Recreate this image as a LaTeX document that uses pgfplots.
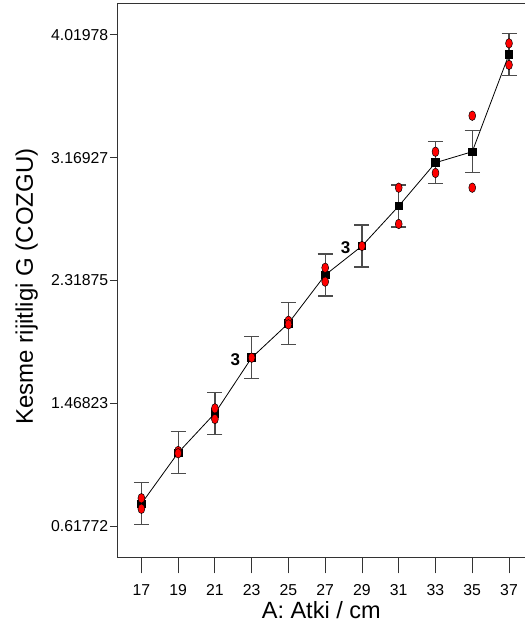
\documentclass[border=0pt]{standalone}
\usepackage{fontspec}
\setmainfont{Liberation Sans}
\usepackage{pgfplots}
\usepackage{pgfplotstable}
\pgfplotsset{compat=1.18}
\usetikzlibrary{calc}

% mean of each run group, with its LSD half-width
\pgfplotstableread{
x  mean   err
17 0.774  0.145
19 1.127  0.145
21 1.400  0.145
23 1.7845 0.145
25 2.0225 0.145
27 2.357  0.145
29 2.5575 0.145
31 2.834  0.145
33 3.134  0.145
35 3.210  0.145
37 3.884  0.145
}\means

% single runs (red dots)
\pgfplotstableread{
x  y
17 0.812
17 0.739
19 1.139
19 1.123
21 1.434
21 1.360
23 1.7845
25 2.040
25 2.015
27 2.407
27 2.311
29 2.5575
31 2.961
31 2.710
33 3.210
33 3.063
35 3.459
35 2.961
37 3.960
37 3.811
}\runs

\begin{document}
\begin{tikzpicture}
\begin{axis}[
    scale only axis,
    width=407.5bp, height=554.7bp,
    xmin=15.70, xmax=37.87,
    ymin=0.4004, ymax=4.2392,
    axis x line=box, axis y line=left,
    axis line style={-, black!80, line width=0.9bp},
    tick pos=left,
    tick align=outside,
    xtick={17,19,...,37},
    every major x tick/.append style={draw=none},
    minor xtick={17,19,...,37},
    minor tick length=15.6bp,
    ytick={0.61772,1.46823,2.31875,3.16927,4.01978},
    yticklabels={0.61772,1.46823,2.31875,3.16927,4.01978},
    major tick length=7.7bp,
    tick style={black!80, line width=0.9bp},
    tick label style={font=\fontsize{15.8bp}{18bp}\selectfont},
    /pgf/number format/assume math mode=true,
    xticklabel style={yshift=-16bp},
    yticklabel style={xshift=2bp},
    xlabel={A: Atki / cm},
    ylabel={Kesme rijitligi G (COZGU)},
    xlabel style={font=\fontsize{23.5bp}{27bp}\selectfont,
        at={(axis description cs:0.5,0)}, anchor=base, yshift=-60.3bp},
    ylabel style={font=\fontsize{24bp}{28bp}\selectfont,
        at={(axis description cs:-0.2074,0.4889)}, anchor=base, rotate=0},
    clip=false,
]
\coordinate (SW) at (rel axis cs:0,0);
\coordinate (NE) at (rel axis cs:1,1);

\addplot[black, line width=0.8bp,
    mark=square*, mark size=3.8bp, mark options={fill=black, draw=black},
    error bars/.cd, y dir=both, y explicit,
    error bar style={line width=1.2bp, black!70},
    error mark options={rotate=90, mark size=7.5bp, line width=1.2bp, black!70}]
    table[x=x, y=mean, y error=err] {\means};

\addplot[only marks, mark=*, mark size=4.8bp,
    mark options={fill=red, draw=black, line width=0.5bp, xscale=0.72}]
    table[x=x, y=y] {\runs};

\node[anchor=east, font=\fontsize{17bp}{20bp}\selectfont\bfseries,
    xshift=-8bp, yshift=-2bp] at (axis cs:23,1.7845) {3};
\node[anchor=east, font=\fontsize{17bp}{20bp}\selectfont\bfseries,
    xshift=-8bp, yshift=-2bp] at (axis cs:29,2.5575) {3};
\end{axis}
\pgfresetboundingbox
\path ($(SW)+(-117.5bp,-69.3bp)$) rectangle ($(NE)+(0,3bp)$);
\end{tikzpicture}
\end{document}
